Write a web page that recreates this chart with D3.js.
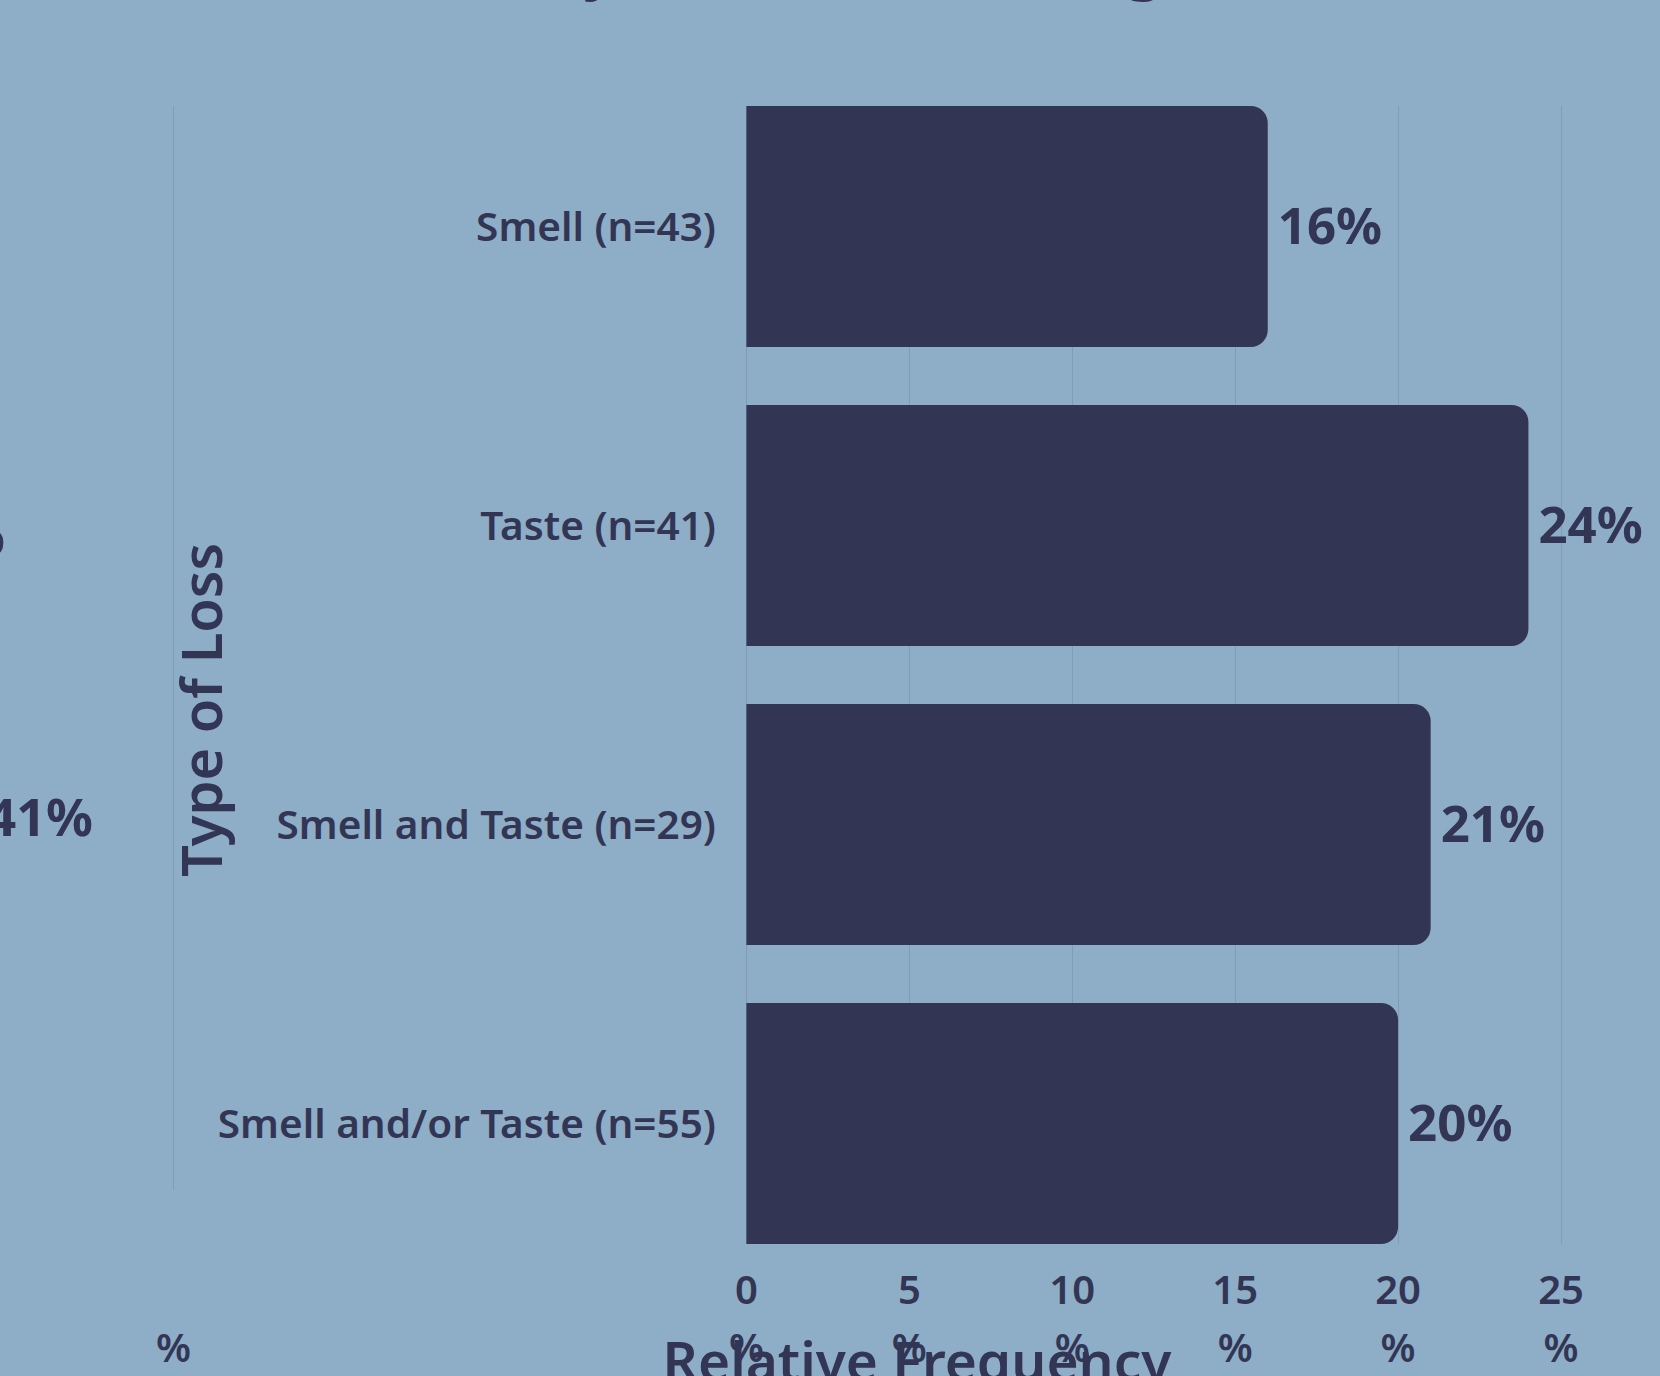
<!DOCTYPE html>
<html>
<head>
<meta charset="utf-8">
<script src="https://cdn.jsdelivr.net/npm/d3@7"></script>
<style>
  html, body { margin: 0; padding: 0; background: #8eadc6; overflow: hidden; }
  svg { display: block; }
  text { font-family: "Noto Sans", "Open Sans", sans-serif; fill: #323554; }
</style>
</head>
<body>
<svg id="chart" width="1660" height="1376"></svg>
<script>
// ---- data ----
const categories = ["Smell (n=43)", "Taste (n=41)", "Smell and Taste (n=29)", "Smell and/or Taste (n=55)"];
const values = [16, 24, 21, 20];
const valueLabels = ["16%", "24%", "21%", "20%"];
const tickValues = [0, 5, 10, 15, 20, 25];
const tickNumbers = ["0", "5", "10", "15", "20", "25"];
const tickUnit = "%";
const xTitle = "Relative Frequency";
const yTitle = "Type of Loss";
const titleText = "Sensory Loss Rates Among Adults";
const neighbourLabels = ["%", "41%"];   // clipped labels of the panel to the left
const neighbourTickLabel = "%";          // clipped tick label of the panel to the left

// ---- layout ----
const W = 1660, H = 1376;
const plot = { left: 746.4, right: 1561, top: 106, bottom: 1244 };
const colBar = "#323654", colGrid = "#7f9db8";

const svg = d3.select("#chart");
svg.append("rect").attr("width", W).attr("height", H).attr("fill", "#8eadc6");

const x = d3.scaleLinear().domain([0, 25]).range([plot.left, plot.right]);
const y = d3.scaleBand().domain(categories).range([plot.top, plot.bottom])
  .paddingInner(0.194).paddingOuter(0);

// gridlines
svg.append("g").selectAll("line").data(tickValues).join("line")
  .attr("x1", d => Math.round(x(d)) + 0.5).attr("x2", d => Math.round(x(d)) + 0.5)
  .attr("y1", plot.top).attr("y2", plot.bottom)
  .attr("stroke", colGrid).attr("stroke-width", 1);

// frame line of the left panel
svg.append("line").attr("x1", 173.5).attr("x2", 173.5)
  .attr("y1", plot.top).attr("y2", 1190)
  .attr("stroke", colGrid).attr("stroke-width", 1);

// bars with rounded right corners
const r = 17;
function barPath(v, cat) {
  const x0 = x(0), x1 = x(v), y0 = y(cat), h = y.bandwidth();
  const p = d3.path();
  p.moveTo(x0, y0);
  p.lineTo(x1 - r, y0);
  p.arcTo(x1, y0, x1, y0 + r, r);
  p.lineTo(x1, y0 + h - r);
  p.arcTo(x1, y0 + h, x1 - r, y0 + h, r);
  p.lineTo(x0, y0 + h);
  p.closePath();
  return p.toString();
}
svg.append("g").selectAll("path").data(values).join("path")
  .attr("d", (d, i) => barPath(d, categories[i]))
  .attr("fill", colBar);

// value labels
svg.append("g").selectAll("text").data(values).join("text")
  .attr("x", d => x(d) + 10)
  .attr("y", (d, i) => y(categories[i]) + y.bandwidth() / 2)
  .attr("dy", "0.35em")
  .attr("font-size", 51).attr("font-weight", 700)
  .text((d, i) => valueLabels[i]);

// category labels
svg.append("g").selectAll("text").data(categories).join("text")
  .attr("x", 716)
  .attr("y", d => y(d) + y.bandwidth() / 2)
  .attr("dy", "0.35em")
  .attr("text-anchor", "end")
  .attr("font-size", 40.5).attr("font-weight", 600)
  .text(d => d);

// x tick labels (wrapped in two lines)
const tg = svg.append("g").selectAll("g").data(tickValues).join("g")
  .attr("transform", d => `translate(${x(d)},0)`);
tg.append("text").attr("y", 1304).attr("text-anchor", "middle")
  .attr("font-size", 40).attr("font-weight", 600)
  .text((d, i) => tickNumbers[i]);
tg.append("text").attr("y", 1362).attr("text-anchor", "middle")
  .attr("font-size", 40).attr("font-weight", 600)
  .text(tickUnit);

// left panel clipped tick label
svg.append("text").attr("x", 173.5).attr("y", 1362).attr("text-anchor", "middle")
  .attr("font-size", 40).attr("font-weight", 600).text(neighbourTickLabel);

// left panel clipped value labels
svg.append("text").attr("x", 5).attr("y", 536).attr("dy", "0.35em")
  .attr("text-anchor", "end").attr("font-size", 52).attr("font-weight", 700)
  .text(neighbourLabels[0]);
svg.append("text").attr("x", 93).attr("y", 818).attr("dy", "0.35em")
  .attr("text-anchor", "end").attr("font-size", 52).attr("font-weight", 700)
  .text(neighbourLabels[1]);

// axis titles
svg.append("text")
  .attr("transform", "translate(222,710) rotate(-90)")
  .attr("text-anchor", "middle")
  .attr("font-size", 56).attr("font-weight", 600)
  .text(yTitle);
svg.append("text")
  .attr("x", 917).attr("y", 1381)
  .attr("text-anchor", "middle")
  .attr("font-size", 55).attr("font-weight", 600)
  .text(xTitle);

// chart title (mostly above the visible area)
const t = svg.append("text").attr("x", 0).attr("y", -12)
  .attr("font-size", 60).attr("font-weight", 700).text(titleText);
const node = t.node();
const iy = titleText.indexOf("y"), ig = titleText.lastIndexOf("g");
const ey = node.getExtentOfChar(iy), eg = node.getExtentOfChar(ig);
const cy = ey.x + ey.width / 2, cg = eg.x + eg.width / 2;
const s = 60 * (1145 - 600) / (cg - cy);
t.attr("font-size", s);
const ey2 = node.getExtentOfChar(iy);
t.attr("x", 600 - (ey2.x + ey2.width / 2));
</script>
</body>
</html>
